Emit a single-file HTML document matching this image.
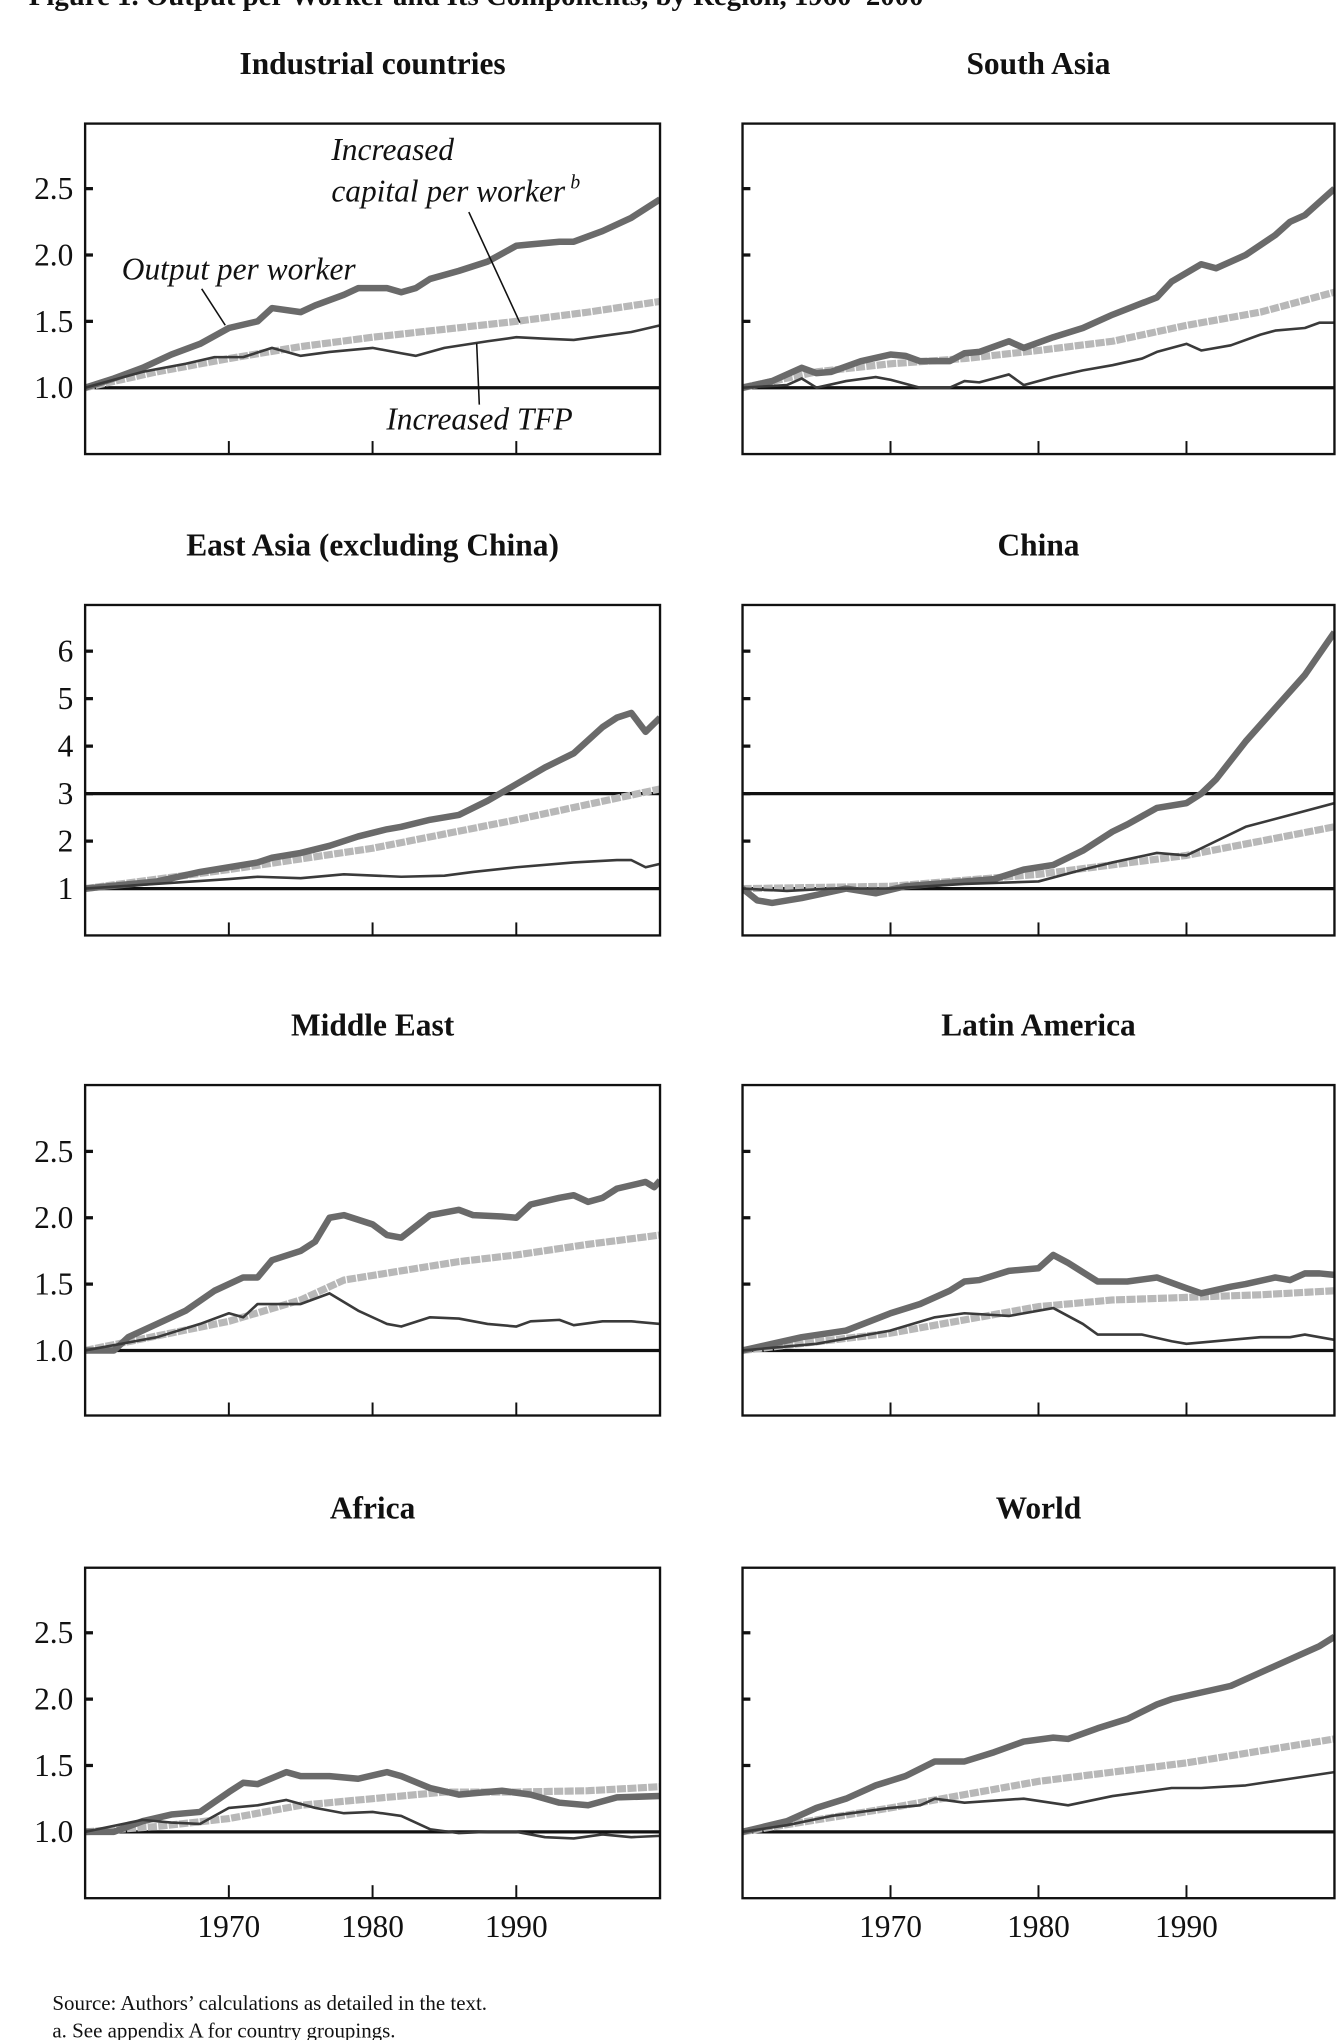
<!DOCTYPE html>
<html><head><meta charset="utf-8"><style>
html,body{margin:0;padding:0;background:#fff;}
svg{display:block;}
text{font-family:"Liberation Serif",serif;fill:#111;}
</style></head><body>
<svg id="s" width="1341" height="2040" viewBox="0 0 1024 1568" preserveAspectRatio="none" xmlns="http://www.w3.org/2000/svg">
<rect width="1024" height="1568" fill="#fff"/>
<text x="22" y="4" font-size="22" font-weight="bold">Figure 1. Output per Worker and Its Components, by Region, 1960–2000</text>
<g id="g"></g>
<text x="40" y="1545" font-size="16">Source:  Authors’ calculations as detailed in the text.</text>
<text x="40" y="1566" font-size="16">a.  See appendix A for country groupings.</text>
</svg>
<script>
var g=document.getElementById('g');var h='';
function P(cfg){
 var L=cfg.l,R=cfg.r,T=cfg.t,B=cfg.b;
 var yv=cfg.yv, x=function(yr){return L+(yr-1960)*(R-L)/40;};
 var y=function(v){return yv[0]+(v-yv[1])*yv[2];};
 h+='<text x="'+((L+R)/2)+'" y="'+(T-38)+'" font-size="24" font-weight="bold" text-anchor="middle">'+cfg.title+'</text>';
 h+='<defs><clipPath id="c'+cfg.id+'"><rect x="'+L+'" y="'+T+'" width="'+(R-L)+'" height="'+(B-T)+'"/></clipPath></defs>';
 cfg.ticks.forEach(function(t){var yy=y(t[0]);h+='<line x1="'+L+'" x2="'+(L+6)+'" y1="'+yy+'" y2="'+yy+'" stroke="#111" stroke-width="2.5"/>';
  if(cfg.lab)h+='<text x="56" y="'+(yy+8)+'" font-size="24" text-anchor="end">'+t[1]+'</text>';});
 [1970,1980,1990].forEach(function(yr){h+='<line x1="'+x(yr)+'" x2="'+x(yr)+'" y1="'+B+'" y2="'+(B-10)+'" stroke="#111" stroke-width="1.5"/>';
  if(cfg.xl)h+='<text x="'+x(yr)+'" y="'+(B+30)+'" font-size="24" text-anchor="middle">'+yr+'</text>';});
 cfg.hl.forEach(function(v){h+='<line x1="'+L+'" x2="'+R+'" y1="'+y(v)+'" y2="'+y(v)+'" stroke="#111" stroke-width="2.5"/>';});
 function pl(d,st){var s=d.map(function(p){return x(1900+p[0]).toFixed(1)+','+y(p[1]).toFixed(1);}).join(' ');
  h+='<polyline clip-path="url(#c'+cfg.id+')" points="'+s+'" fill="none" '+st+' stroke-linejoin="round"/>';}
 pl(cfg.k,'stroke="#b8b8b8" stroke-width="5.5" stroke-dasharray="7 1"');
 pl(cfg.o,'stroke="#6a6a6a" stroke-width="5"');
 pl(cfg.f,'stroke="#3a3a3a" stroke-width="2"');
 h+='<rect x="'+L+'" y="'+T+'" width="'+(R-L)+'" height="'+(B-T)+'" fill="none" stroke="#111" stroke-width="1.8"/>';
}
var tk=[[1,'1.0'],[1.5,'1.5'],[2,'2.0'],[2.5,'2.5']];
var tk2=[[1,'1'],[2,'2'],[3,'3'],[4,'4'],[5,'5'],[6,'6']];
var Lp={l:65,r:504,lab:1},Rp={l:567,r:1019,lab:0};
P(Object.assign({id:1,title:'Industrial countries',t:95,b:349,yv:[298,1,-102],ticks:tk,hl:[1],
o:[[60,1],[62,1.07],[64,1.15],[66,1.25],[68,1.33],[70,1.45],[72,1.5],[73,1.6],[75,1.57],[76,1.62],[78,1.7],[79,1.75],[81,1.75],[82,1.72],[83,1.75],[84,1.82],[86,1.88],[88,1.95],[90,2.07],[91,2.08],[93,2.1],[94,2.1],[96,2.18],[98,2.28],[100,2.42]],
k:[[60,1],[65,1.12],[70,1.22],[75,1.31],[80,1.38],[85,1.44],[90,1.5],[95,1.57],[100,1.65]],
f:[[60,1],[64,1.12],[67,1.18],[69,1.23],[71,1.23],[73,1.3],[75,1.24],[77,1.27],[80,1.3],[82,1.26],[83,1.24],[85,1.3],[88,1.35],[90,1.38],[92,1.37],[94,1.36],[96,1.39],[98,1.42],[100,1.47]]},Lp));
P(Object.assign({id:2,title:'South Asia',t:95,b:349,yv:[298,1,-102],ticks:tk,hl:[1],
o:[[60,1],[62,1.05],[64,1.15],[65,1.11],[66,1.12],[68,1.2],[70,1.25],[71,1.24],[72,1.2],[74,1.2],[75,1.26],[76,1.27],[78,1.35],[79,1.3],[81,1.38],[83,1.45],[85,1.55],[88,1.68],[89,1.8],[91,1.93],[92,1.9],[94,2.0],[96,2.15],[97,2.25],[98,2.3],[100,2.5]],
k:[[60,1],[65,1.12],[70,1.18],[75,1.22],[80,1.28],[85,1.35],[90,1.47],[95,1.57],[100,1.72]],
f:[[60,1],[63,1.02],[64,1.07],[65,1.0],[67,1.05],[69,1.08],[70,1.06],[72,1.0],[74,1.0],[75,1.05],[76,1.04],[78,1.1],[79,1.02],[81,1.08],[83,1.13],[85,1.17],[87,1.22],[88,1.27],[90,1.33],[91,1.28],[93,1.32],[95,1.4],[96,1.43],[98,1.45],[99,1.49],[100,1.49]]},Rp));
P(Object.assign({id:3,title:'East Asia (excluding China)',t:465,b:719,yv:[683,1,-36.5],ticks:tk2,hl:[1,3],
o:[[60,1],[65,1.15],[68,1.35],[70,1.45],[72,1.55],[73,1.65],[75,1.75],[77,1.9],[79,2.1],[81,2.25],[82,2.3],[84,2.45],[86,2.55],[88,2.85],[90,3.2],[92,3.55],[94,3.85],[96,4.4],[97,4.6],[98,4.7],[99,4.3],[100,4.6]],
k:[[60,1],[70,1.4],[80,1.85],[90,2.45],[100,3.1]],
f:[[60,1],[70,1.2],[72,1.25],[75,1.22],[78,1.3],[82,1.25],[85,1.27],[87,1.35],[90,1.45],[94,1.55],[97,1.6],[98,1.6],[99,1.45],[100,1.52]]},Lp));
P(Object.assign({id:4,title:'China',t:465,b:719,yv:[683,1,-36.5],ticks:tk2,hl:[1,3],
o:[[60,1],[61,0.75],[62,0.7],[64,0.8],[67,1.0],[69,0.9],[71,1.05],[73,1.1],[75,1.15],[77,1.2],[79,1.4],[81,1.5],[83,1.8],[85,2.2],[86,2.35],[88,2.7],[90,2.8],[91,3.0],[92,3.3],[94,4.1],[96,4.8],[98,5.5],[100,6.4]],
k:[[60,1],[70,1.05],[80,1.3],[90,1.7],[100,2.3]],
f:[[60,1],[63,0.95],[66,1.0],[70,1.0],[75,1.1],[80,1.15],[83,1.4],[85,1.55],[88,1.75],[90,1.7],[92,2.0],[94,2.3],[97,2.55],[100,2.8]]},Rp));
P(Object.assign({id:5,title:'Middle East',t:834,b:1088,yv:[1038,1,-102],ticks:tk,hl:[1],
o:[[60,1],[62,1.0],[63,1.1],[65,1.2],[67,1.3],[69,1.45],[71,1.55],[72,1.55],[73,1.68],[75,1.75],[76,1.82],[77,2.0],[78,2.02],[80,1.95],[81,1.87],[82,1.85],[84,2.02],[86,2.06],[87,2.02],[89,2.01],[90,2.0],[91,2.1],[93,2.15],[94,2.17],[95,2.12],[96,2.15],[97,2.22],[99,2.27],[99.6,2.23],[100,2.28]],
k:[[60,1],[70,1.22],[75,1.38],[78,1.53],[82,1.6],[86,1.67],[90,1.72],[95,1.8],[100,1.87]],
f:[[60,1],[65,1.1],[68,1.2],[70,1.28],[71,1.25],[72,1.35],[75,1.35],[77,1.43],[79,1.3],[81,1.2],[82,1.18],[84,1.25],[86,1.24],[88,1.2],[90,1.18],[91,1.22],[93,1.23],[94,1.19],[96,1.22],[98,1.22],[100,1.2]]},Lp));
P(Object.assign({id:6,title:'Latin America',t:834,b:1088,yv:[1038,1,-102],ticks:tk,hl:[1],
o:[[60,1],[62,1.05],[64,1.1],[67,1.15],[70,1.28],[72,1.35],[74,1.45],[75,1.52],[76,1.53],[78,1.6],[80,1.62],[81,1.72],[82,1.66],[84,1.52],[86,1.52],[88,1.55],[90,1.47],[91,1.43],[93,1.48],[94,1.5],[96,1.55],[97,1.53],[98,1.58],[99,1.58],[100,1.57]],
k:[[60,1],[70,1.13],[75,1.23],[80,1.33],[85,1.38],[90,1.4],[95,1.42],[100,1.45]],
f:[[60,1],[65,1.05],[70,1.15],[73,1.25],[75,1.28],[78,1.26],[81,1.32],[83,1.2],[84,1.12],[87,1.12],[89,1.07],[90,1.05],[93,1.08],[95,1.1],[97,1.1],[98,1.12],[100,1.08]]},Rp));
P(Object.assign({id:7,title:'Africa',t:1205,b:1459,yv:[1408,1,-102],ticks:tk,hl:[1],xl:1,
o:[[60,1],[62,1.0],[64,1.08],[66,1.13],[68,1.15],[70,1.3],[71,1.37],[72,1.36],[74,1.45],[75,1.42],[77,1.42],[79,1.4],[81,1.45],[82,1.42],[84,1.33],[86,1.28],[88,1.3],[89,1.31],[91,1.28],[93,1.22],[95,1.2],[97,1.26],[100,1.27]],
k:[[60,1],[65,1.04],[70,1.1],[75,1.2],[80,1.25],[85,1.3],[90,1.3],[95,1.31],[100,1.34]],
f:[[60,1],[64,1.09],[66,1.07],[68,1.06],[70,1.18],[72,1.2],[74,1.24],[76,1.18],[78,1.14],[80,1.15],[82,1.12],[84,1.02],[86,0.99],[88,1.0],[90,1.0],[92,0.96],[94,0.95],[96,0.98],[98,0.96],[100,0.97]]},Lp));
P(Object.assign({id:8,title:'World',t:1205,b:1459,yv:[1408,1,-102],ticks:tk,hl:[1],xl:1,
o:[[60,1],[63,1.08],[65,1.18],[67,1.25],[69,1.35],[71,1.42],[73,1.53],[75,1.53],[77,1.6],[79,1.68],[81,1.71],[82,1.7],[84,1.78],[86,1.85],[88,1.96],[89,2.0],[91,2.05],[93,2.1],[95,2.2],[97,2.3],[99,2.4],[100,2.47]],
k:[[60,1],[70,1.18],[80,1.38],[90,1.52],[100,1.7]],
f:[[60,1],[63,1.05],[66,1.12],[70,1.18],[72,1.2],[73,1.25],[75,1.22],[79,1.25],[82,1.2],[85,1.27],[89,1.33],[91,1.33],[94,1.35],[97,1.4],[100,1.45]]},Rp));
h+='<g font-style="italic" font-size="24"><text x="253" y="123">Increased</text><text x="253" y="155">capital per worker<tspan font-size="15" dy="-10" dx="4">b</tspan></text>';
h+='<text x="93" y="215">Output per worker</text><text x="295" y="330">Increased TFP</text></g>';
h+='<line x1="358" y1="163" x2="397" y2="248" stroke="#111" stroke-width="1.2"/>';
h+='<line x1="154" y1="222" x2="172" y2="250" stroke="#111" stroke-width="1.2"/>';
h+='<line x1="364" y1="264" x2="366" y2="311" stroke="#111" stroke-width="1.2"/>';
g.innerHTML=h;
</script>
</body></html>
